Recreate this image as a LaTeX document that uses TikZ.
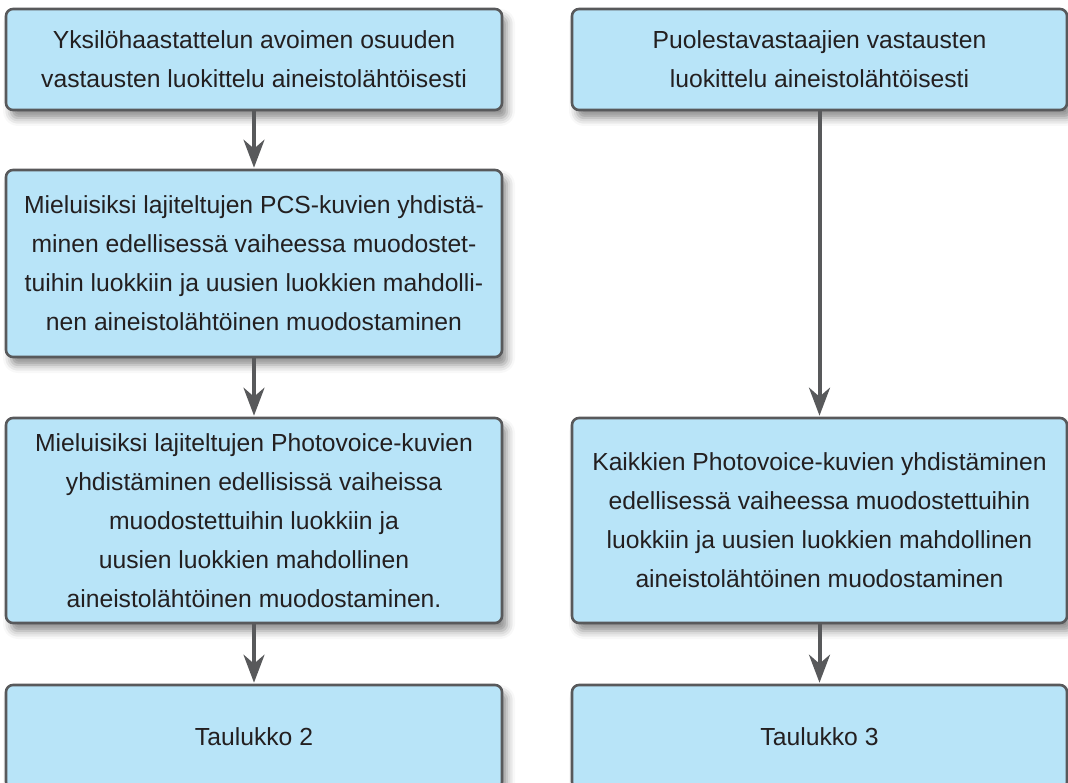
\documentclass[tikz,border=0pt]{standalone}
\usepackage{fontspec}
\setmainfont{Liberation Sans}
\usetikzlibrary{arrows.meta,shadows.blur}
\definecolor{boxfill}{HTML}{B8E4F8}
\definecolor{boxline}{HTML}{58595B}
\definecolor{txt}{HTML}{231F20}
\tikzset{
  flowbox/.style={draw=boxline, line width=2.6pt, fill=boxfill, rounded corners=7pt,
    text=txt, align=center, inner sep=0pt,
    font=\fontsize{24.7}{39}\selectfont,
    blur shadow={shadow xshift=5pt, shadow yshift=-8pt, shadow blur radius=8pt, shadow opacity=45}},
  flowarrow/.style={draw=boxline, line width=4pt,
    -{Stealth[length=28pt, width=21pt, inset=9pt]}, shorten >=1pt}
}
\begin{document}
\begin{tikzpicture}[x=1pt,y=-1pt]
\useasboundingbox (0,0) rectangle (1068,783);
\clip (0,0) rectangle (1068,783);
% left column
\node[flowbox, minimum width=496pt, minimum height=101pt] (l1) at (254,59.5)
  {Yksilöhaastattelun avoimen osuuden\\vastausten luokittelu aineistolähtöisesti};
\node[flowbox, minimum width=496pt, minimum height=187pt] (l2) at (254,263.5)
  {Mieluisiksi lajiteltujen PCS-kuvien yhdistä-\\minen edellisessä vaiheessa muodostet-\\tuihin luokkiin ja uusien luokkien mahdolli-\\nen aineistolähtöinen muodostaminen};
\node[flowbox, minimum width=496pt, minimum height=205pt] (l3) at (254,520.5)
  {Mieluisiksi lajiteltujen Photovoice-kuvien\\yhdistäminen edellisissä vaiheissa\\muodostettuihin luokkiin ja\\uusien luokkien mahdollinen\\aineistolähtöinen muodostaminen.};
\node[flowbox, minimum width=496pt, minimum height=104pt] (l4) at (254,737)
  {Taulukko 2};
% right column
\node[flowbox, minimum width=495pt, minimum height=101pt] (r1) at (819.5,59.5)
  {Puolestavastaajien vastausten\\luokittelu aineistolähtöisesti};
\node[flowbox, minimum width=495pt, minimum height=205pt] (r2) at (819.5,520.5)
  {Kaikkien Photovoice-kuvien yhdistäminen\\edellisessä vaiheessa muodostettuihin\\luokkiin ja uusien luokkien mahdollinen\\aineistolähtöinen muodostaminen};
\node[flowbox, minimum width=495pt, minimum height=104pt] (r3) at (819.5,737)
  {Taulukko 3};
% arrows
\draw[flowarrow] (l1.south) -- (l2.north);
\draw[flowarrow] (l2.south) -- (l3.north);
\draw[flowarrow] (l3.south) -- (l4.north);
\draw[flowarrow] (r1.south) -- (r2.north);
\draw[flowarrow] (r2.south) -- (r3.north);
\end{tikzpicture}
\end{document}
